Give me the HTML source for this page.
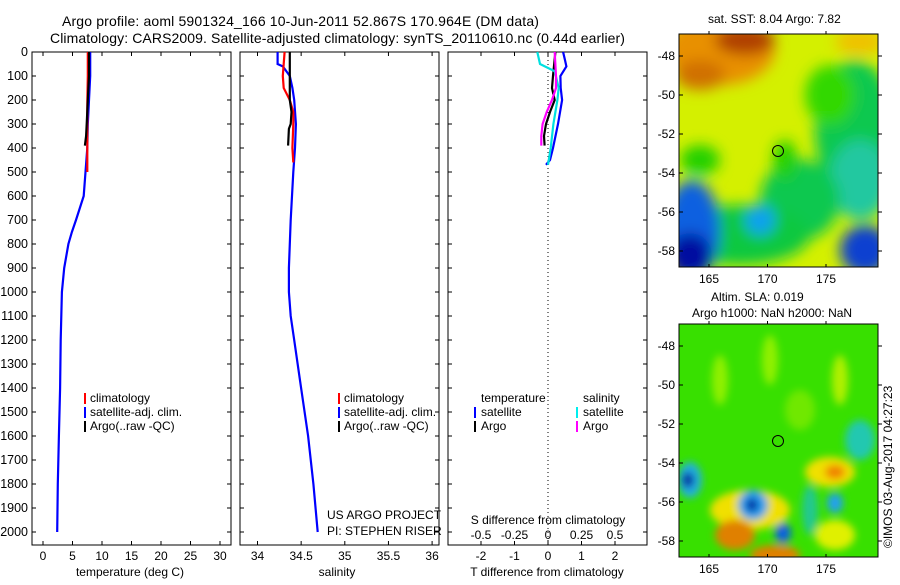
<!DOCTYPE html>
<html><head><meta charset="utf-8">
<style>
body{margin:0;background:#fff;font-family:"Liberation Sans",sans-serif;}
svg text{font-family:"Liberation Sans",sans-serif;font-size:12px;fill:#000;}
</style></head>
<body>
<svg id="fig" width="900" height="580" viewBox="0 0 900 580" xmlns="http://www.w3.org/2000/svg">
<defs>
<filter id="bl" x="-50%" y="-50%" width="200%" height="200%"><feGaussianBlur stdDeviation="7"/></filter>
<filter id="bl2" x="-50%" y="-50%" width="200%" height="200%"><feGaussianBlur stdDeviation="4"/></filter>
<clipPath id="c1"><rect x="679" y="34" width="199" height="233"/></clipPath>
<clipPath id="c2"><rect x="679" y="324" width="199" height="233"/></clipPath>
</defs>
<text x="62" y="26" style="font-size:14px;letter-spacing:0.15px">Argo profile: aoml 5901324_166 10-Jun-2011 52.867S 170.964E (DM data)</text>
<text x="50" y="43" style="font-size:14px;letter-spacing:0.1px">Climatology: CARS2009. Satellite-adjusted climatology: synTS_20110610.nc (0.44d earlier)</text>
<g id="panels"></g>
<g id="maps">
 <g clip-path="url(#c1)">
  <rect x="679" y="34" width="199" height="233" fill="#d4f000"/>
  <g filter="url(#bl)">
   <ellipse cx="720" cy="50" rx="55" ry="35" fill="#e89000"/>
   <ellipse cx="745" cy="40" rx="30" ry="15" fill="#b04000"/>
   <ellipse cx="700" cy="75" rx="25" ry="15" fill="#d07000"/>
   <ellipse cx="860" cy="42" rx="25" ry="12" fill="#f0c000"/>
   <ellipse cx="855" cy="130" rx="40" ry="70" fill="#10c850"/>
   <ellipse cx="830" cy="95" rx="25" ry="30" fill="#30d800"/>
   <ellipse cx="860" cy="180" rx="30" ry="40" fill="#20c8a0"/>
   <ellipse cx="800" cy="200" rx="40" ry="40" fill="#10c850"/>
   <ellipse cx="740" cy="235" rx="70" ry="30" fill="#10c840"/>
   <ellipse cx="692" cy="230" rx="28" ry="50" fill="#1060e0"/>
   <ellipse cx="690" cy="255" rx="22" ry="22" fill="#0010a0"/>
   <ellipse cx="760" cy="220" rx="15" ry="15" fill="#10a0f0"/>
   <ellipse cx="865" cy="250" rx="25" ry="25" fill="#1040d0"/>
   <ellipse cx="700" cy="160" rx="20" ry="15" fill="#20d000"/>
   <ellipse cx="785" cy="160" rx="12" ry="20" fill="#20d000"/>
  </g>
  <circle cx="778" cy="151" r="5.5" fill="none" stroke="#000"/>
 </g>
 <rect x="679" y="34" width="199" height="233" fill="none" stroke="#000"/>
 <g clip-path="url(#c2)">
  <rect x="679" y="324" width="199" height="233" fill="#38e000"/>
  <g filter="url(#bl2)">
   <ellipse cx="720" cy="380" rx="8" ry="25" fill="#90f000"/>
   <ellipse cx="770" cy="360" rx="8" ry="25" fill="#90f000"/>
   <ellipse cx="800" cy="410" rx="15" ry="20" fill="#70e800"/>
   <ellipse cx="840" cy="380" rx="8" ry="25" fill="#b0f000"/>
   <ellipse cx="860" cy="440" rx="15" ry="20" fill="#20c8b0"/>
   <ellipse cx="690" cy="480" rx="12" ry="18" fill="#20b0e0"/>
   <ellipse cx="688" cy="480" rx="6" ry="8" fill="#0020a0"/>
   <ellipse cx="830" cy="472" rx="25" ry="15" fill="#f0e000"/>
   <ellipse cx="835" cy="472" rx="10" ry="7" fill="#f08000"/>
   <ellipse cx="750" cy="510" rx="40" ry="20" fill="#f0e000"/>
   <ellipse cx="735" cy="535" rx="20" ry="15" fill="#e08000"/>
   <ellipse cx="775" cy="555" rx="25" ry="10" fill="#e08000"/>
   <ellipse cx="753" cy="505" rx="15" ry="15" fill="#20a0f0"/>
   <ellipse cx="752" cy="505" rx="6" ry="7" fill="#0020a0"/>
   <ellipse cx="783" cy="533" rx="8" ry="10" fill="#1060e0"/>
   <ellipse cx="835" cy="503" rx="8" ry="10" fill="#20a0f0"/>
   <ellipse cx="835" cy="535" rx="20" ry="15" fill="#e0f000"/>
   <ellipse cx="810" cy="510" rx="8" ry="25" fill="#20c890"/>
  </g>
  <circle cx="778" cy="441" r="5.5" fill="none" stroke="#000"/>
 </g>
 <rect x="679" y="324" width="199" height="233" fill="none" stroke="#000"/>
 <text x="708" y="23">sat. SST: 8.04  Argo: 7.82</text>
 <text x="711" y="301">Altim. SLA: 0.019</text>
 <text x="692" y="317">Argo h1000: NaN h2000: NaN</text>
 <text transform="translate(892,548) rotate(-90)">©IMOS 03-Aug-2017 04:27:23</text>
</g>
</svg>
<script>
// ---- data ----
const tempDepth   = [0,100,200,300,400,500,600,700,750,800,900,1000,1200,1400,1600,1800,2000];
const tempSat     = [8.0,8.0,7.8,7.6,7.5,7.2,6.9,5.6,4.9,4.3,3.6,3.2,3.0,2.9,2.7,2.5,2.4];
const tempClimDepth=[0,100,220,300,400,500];
const tempClim    = [7.6,7.6,7.5,7.5,7.5,7.5];
const tempArgoDepth=[0,100,200,300,350,390];
const tempArgo    = [7.8,7.8,7.6,7.4,7.3,7.1];
const salDepth    = [0,50,60,100,150,200,300,400,500,700,900,1000,1100,1200,1400,1600,1800,2000];
const salSat      = [34.23,34.23,34.29,34.37,34.40,34.42,34.44,34.43,34.41,34.38,34.36,34.36,34.38,34.42,34.5,34.58,34.64,34.69];
const salClimDepth=[0,100,150,200,250,300,400,460];
const salClim     = [34.31,34.29,34.30,34.37,34.41,34.41,34.40,34.41];
const salArgoDepth=[0,200,250,300,320,390];
const salArgo     = [34.37,34.37,34.39,34.38,34.36,34.35];
const dTDepth     = [0,30,60,100,150,200,300,400,450,470];
const dTSat       = [0.45,0.5,0.55,0.37,0.38,0.42,0.3,0.15,0.06,-0.06];
const dTArgoDepth = [0,100,150,200,250,300,350,390];
const dTArgo      = [0.22,0.15,0.12,0.2,0.06,-0.06,-0.12,-0.1];
const dSDepth     = [0,50,80,150,200,300,400,470];
const dSSat       = [-0.08,-0.06,0.05,0.08,0.07,0.04,0.02,0.0];
const dSArgoDepth = [0,100,150,200,250,300,350,390];
const dSArgo      = [0.05,0.06,0.06,0.03,-0.01,-0.04,-0.05,-0.05];
const depthTicks  = [0,100,200,300,400,500,600,700,800,900,1000,1100,1200,1300,1400,1500,1600,1700,1800,1900,2000];
const tempTicks   = [0,5,10,15,20,25,30];
const salTicks    = [34,34.5,35,35.5,36];
const dTTicks     = [-2,-1,0,1,2];
const dSTickLabels= ["-0.5","-0.25","0","0.25","0.5"];
const dSTicks     = [-0.5,-0.25,0,0.25,0.5];
const latTicks    = [48,50,52,54,56,58];
const lonTicks    = [165,170,175];

const NS='http://www.w3.org/2000/svg';
const G=document.getElementById('panels');
function el(t,a,p){const e=document.createElementNS(NS,t);for(const k in a)e.setAttribute(k,a[k]);(p||G).appendChild(e);return e;}
const yD=d=>52+d*0.24;
const xT=t=>43+t*5.9;
const xS=s=>257.5+(s-34)*87.3;
const xDT=v=>548+v*33.5;
const xDS=v=>548+v*134;
const PT=52,PB=545;

function line(xs,ds,fx,col,name){
  const p=el('polyline',{points:xs.map((v,i)=>fx(v).toFixed(1)+','+yD(ds[i]).toFixed(1)).join(' '),fill:'none',stroke:col,'stroke-width':2.2});
  
  
}
function frame(x0,x1,name){
  const r=el('rect',{x:x0,y:PT,width:x1-x0,height:PB-PT,fill:'none',stroke:'#000'});
  
  
  depthTicks.forEach(d=>{el('line',{x1:x0,x2:x0+4,y1:yD(d),y2:yD(d),stroke:'#000'});el('line',{x1:x1,x2:x1-4,y1:yD(d),y2:yD(d),stroke:'#000'});});
}
function xticks(ticks,fx,labels,y,name){
  ticks.forEach((t,i)=>{
    el('line',{x1:fx(t),x2:fx(t),y1:PB,y2:PB-4,stroke:'#000'});
    el('line',{x1:fx(t),x2:fx(t),y1:PT,y2:PT+4,stroke:'#000'});
    const tx=el('text',{x:fx(t),y:y,'text-anchor':'middle'});tx.textContent=labels[i];
    
    
  });
}
function text(x,y,s,name,anchor){const t=el('text',{x:x,y:y,'text-anchor':anchor||'start'});t.textContent=s;
  
  return t;}
function legendBar(x,y,col){el('rect',{x:x,y:y-10,width:2,height:11,fill:col});}

depthTicks.forEach(d=>{const t=text(28,yD(d)+4,String(d),'depth-tick-label','end');t.style.fontSize='12.5px';});
// Panel 1
frame(32,231,'temperature-panel');
xticks(tempTicks,xT,tempTicks.map(String),560,'temperature-tick-label');
text(130,576,'temperature (deg C)','temperature-axis-title','middle');
line(tempSat,tempDepth,xT,'#0000ff','temp-satellite-line');
line(tempClim,tempClimDepth,xT,'#ff0000','temp-climatology-line');
line(tempArgo,tempArgoDepth,xT,'#000','temp-argo-line');
[['#f00','climatology'],['#00f','satellite-adj. clim.'],['#000','Argo(..raw -QC)']].forEach((l,i)=>{legendBar(84,403+i*14,l[0]);text(90,402+i*14,l[1],'temp-legend-entry');});
// Panel 2
frame(240,439,'salinity-panel');
xticks(salTicks,xS,['34','34.5','35','35.5','36'],560,'salinity-tick-label');
text(337,576,'salinity','salinity-axis-title','middle');
line(salSat,salDepth,xS,'#0000ff','sal-satellite-line');
line(salClim,salClimDepth,xS,'#ff0000','sal-climatology-line');
line(salArgo,salArgoDepth,xS,'#000','sal-argo-line');
[['#f00','climatology'],['#00f','satellite-adj. clim.'],['#000','Argo(..raw -QC)']].forEach((l,i)=>{legendBar(338,403+i*14,l[0]);text(344,402+i*14,l[1],'sal-legend-entry');});
text(327,519,'US ARGO PROJECT','project-label');
text(327,535,'PI: STEPHEN RISER','pi-label');
// Panel 3
frame(448,647,'difference-panel');
el('line',{x1:548,x2:548,y1:PT,y2:PB,stroke:'#000','stroke-dasharray':'1,3'});
xticks(dTTicks,xDT,dTTicks.map(String),560,'t-diff-tick-label');
dSTicks.forEach((t,i)=>text(xDS(t),539,dSTickLabels[i],'s-diff-tick-label','middle'));
text(548,524,'S difference from climatology','s-diff-axis-title','middle');
text(547,576,'T difference from climatology','t-diff-axis-title','middle');
line(dTSat,dTDepth,xDT,'#0000ff','dT-satellite-line');
line(dTArgo,dTArgoDepth,xDT,'#000','dT-argo-line');
line(dSSat,dSDepth,xDS,'#00e0e0','dS-satellite-line');
line(dSArgo,dSArgoDepth,xDS,'#ff00ff','dS-argo-line');
text(481,402,'temperature','diff-legend-temperature');
text(583,402,'salinity','diff-legend-salinity');
legendBar(474,417,'#00f');text(481,416,'satellite','diff-legend-entry');
legendBar(474,431,'#000');text(481,430,'Argo','diff-legend-entry');
legendBar(576,417,'#0ee');text(583,416,'satellite','diff-legend-entry');
legendBar(576,431,'#f0f');text(583,430,'Argo','diff-legend-entry');

const M=document.getElementById('maps');
[[34,267],[324,557]].forEach(([top,bot],mi)=>{
  const yl=lat=>top+22+(lat-48)*19.5;
  latTicks.forEach(l=>{
    el('line',{x1:679,x2:683,y1:yl(l),y2:yl(l),stroke:'#000'},M);
    el('line',{x1:878,x2:882,y1:yl(l),y2:yl(l),stroke:'#000'},M);
    const t=el('text',{x:675,y:yl(l)+4,'text-anchor':'end'},M);t.textContent='-'+l;
    
    
  });
  lonTicks.forEach(l=>{
    const x=709+(l-165)*11.7;
    el('line',{x1:x,x2:x,y1:top-3,y2:top,stroke:'#000'},M);
    el('line',{x1:x,x2:x,y1:bot,y2:bot-3,stroke:'#000'},M);
    const t=el('text',{x:x,y:bot+16,'text-anchor':'middle'},M);t.textContent=l;
    
    
  });
});
</script>
</body></html>
